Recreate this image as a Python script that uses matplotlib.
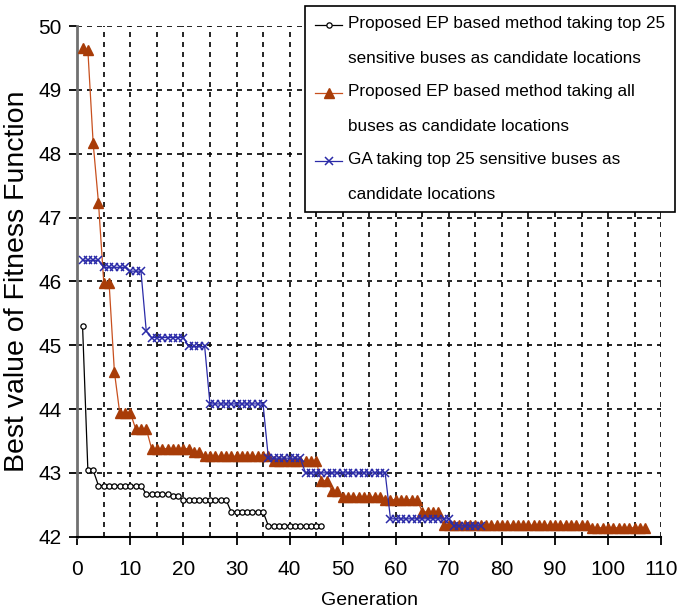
"""Best fitness value per generation for EP and GA placement methods."""

import matplotlib
matplotlib.use("Agg")
import matplotlib.pyplot as plt
import numpy as np
from matplotlib.ticker import MultipleLocator

plt.rcParams["font.family"] = ["Liberation Sans", "DejaVu Sans"]

# EP, top 25 sensitive buses
ep25_gen = list(range(1, 47))
ep25_val = ([45.30] + [43.04] * 2 + [42.80] * 9 + [42.67] * 5 + [42.63] * 2
            + [42.58] * 9 + [42.39] * 7 + [42.17] * 11)

# EP, all buses
epall_gen = list(range(1, 108))
epall_val = ([49.65, 49.62, 48.16, 47.23, 45.97, 45.97, 44.58] + [43.94] * 3
             + [43.69] * 3 + [43.38] * 8 + [43.32] * 2 + [43.26] * 13
             + [43.18] * 9 + [42.88] * 2 + [42.72] * 2 + [42.62] * 8
             + [42.58] * 7 + [42.39] * 4 + [42.18] * 28 + [42.14] * 11)

# GA, top 25 sensitive buses
ga_gen = list(range(1, 77))
ga_val = ([46.33] * 4 + [46.22] * 5 + [46.16] * 3 + [45.22] + [45.12] * 7
          + [44.98] * 4 + [44.08] * 11 + [43.23] * 7 + [43.00] * 16
          + [42.28] * 12 + [42.17] * 6)

labels = [
    "Proposed EP based method taking top 25\nsensitive buses as candidate locations",
    "Proposed EP based method taking all\nbuses as candidate locations",
    "GA taking top 25 sensitive buses as\ncandidate locations",
]

LEG_FS = 12.3
LEG_LS = 2.6

fig = plt.figure(figsize=(6.96, 6.13), dpi=100)
ax = fig.add_axes([0.111, 0.1245, 0.839, 0.833])

ax.plot(ep25_gen, ep25_val, color="black", lw=0.9, marker="o", ms=3.8,
        mfc="white", mec="black", mew=0.9, label=labels[0], zorder=5)
ax.plot(epall_gen, epall_val, color="#c8501e", lw=0.9, marker="^", ms=6.5,
        mfc="#a83c08", mec="#a83c08", label=labels[1], zorder=3)
ax.plot(ga_gen, ga_val, color="#2b2ba8", lw=0.9, marker="x", ms=5.5,
        mec="#2b2ba8", mew=1.1, label=labels[2], zorder=4)

ax.set_xlim(0, 110)
ax.set_ylim(42, 50)
ax.xaxis.set_major_locator(MultipleLocator(10))
ax.xaxis.set_minor_locator(MultipleLocator(5))
ax.yaxis.set_major_locator(MultipleLocator(1))
ax.grid(True, which="both", color="black", ls=(0, (3, 3)), lw=1.2)
ax.tick_params(which="minor", length=0)
ax.tick_params(which="major", direction="out", length=6, width=1.3, labelsize=15)
ax.tick_params(axis="x", pad=11)
ax.tick_params(axis="y", pad=5)

ax.spines["top"].set_visible(False)
ax.spines["right"].set_visible(False)
ax.spines["left"].set_color("#707070")
ax.spines["left"].set_linewidth(2)
ax.spines["bottom"].set_linewidth(1.5)

ax.set_xlabel("Generation", fontsize=14, labelpad=9)
ax.set_ylabel("Best value of Fitness Function", fontsize=20.5, labelpad=6)

leg = fig.legend(loc="upper left", bbox_to_anchor=(0.438, 0.99), fontsize=LEG_FS,
                 fancybox=False, framealpha=1, edgecolor="black",
                 handlelength=1.6, handletextpad=0.3, labelspacing=1.1,
                 borderpad=0.6, borderaxespad=0)
leg.get_frame().set_linewidth(1.2)
for t in leg.get_texts():
    t.set_linespacing(LEG_LS)

# put each legend handle on the first line of its two-line label
shift = 0.5 * LEG_LS * 0.73 * LEG_FS
for h in leg.legend_handles:
    h.set_ydata(np.asarray(h.get_ydata()) + shift)

fig.savefig("out.png", dpi=100)
